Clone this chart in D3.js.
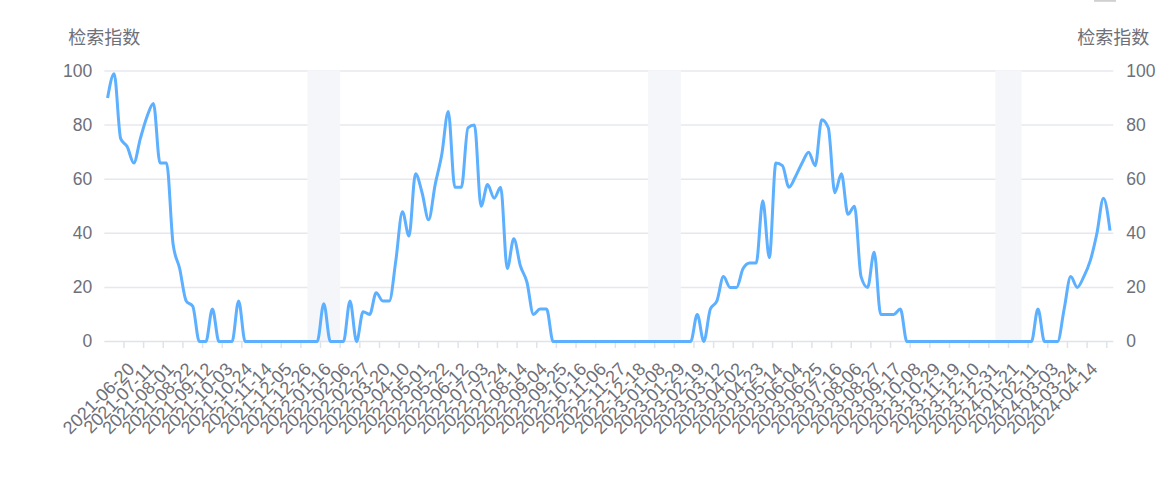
<!DOCTYPE html>
<html>
<head>
<meta charset="utf-8">
<script src="https://cdn.jsdelivr.net/npm/d3@7"></script>
<style>
  html, body { margin: 0; padding: 0; background: #ffffff; }
  svg { display: block; }
  text { font-family: "Liberation Sans", "Noto Sans CJK SC", sans-serif; }
</style>
</head>
<body>
<svg id="chart" width="1168" height="477"></svg>
<script>
// ---- data ----
const startDate = "2021-05-30";          // first weekly category
const weekCount = 154;                    // number of weekly categories
const searchIndex = [
  90, 99, 75, 72, 66, 75, 83, 88, 66, 66,
  36, 27, 15, 13, 0, 0, 12, 0, 0, 0,
  15, 0, 0, 0, 0, 0, 0, 0, 0, 0,
  0, 0, 0, 14, 0, 0, 0, 15, 0, 11,
  10, 18, 15, 15, 30, 48, 39, 62, 55, 45,
  58, 69, 85, 57, 57, 79, 80, 50, 58, 53,
  57, 27, 38, 28, 22, 10, 12, 12, 0, 0,
  0, 0, 0, 0, 0, 0, 0, 0, 0, 0,
  0, 0, 0, 0, 0, 0, 0, 0, 0, 0,
  10, 0, 12, 15, 24, 20, 20, 27, 29, 29,
  52, 31, 66, 65, 57, 61, 66, 70, 65, 82,
  79, 55, 62, 47, 50, 24, 20, 33, 10, 10,
  10, 12, 0, 0, 0, 0, 0, 0, 0, 0,
  0, 0, 0, 0, 0, 0, 0, 0, 0, 0,
  0, 0, 12, 0, 0, 0, 12, 24, 20, 24,
  30, 40, 53, 41
];
const yTicks = [0, 20, 40, 60, 80, 100];
const axisName = "检索指数";
// shaded periods [first week, last week]
const shadedPeriods = [
  ["2022-01-02", "2022-01-30"],
  ["2023-01-01", "2023-01-29"],
  ["2024-01-07", "2024-01-28"]
];
// x labels shown: every 3rd week from 2021-06-20 to 2024-04-14
const labelStep = 3;
const labelFirst = "2021-06-20";
const labelLast = "2024-04-14";

// ---- categories ----
const fmt = d3.utcFormat("%Y-%m-%d");
const start = d3.utcParse("%Y-%m-%d")(startDate);
const categories = d3.range(weekCount).map(i => fmt(d3.utcDay.offset(start, 7 * i)));

// ---- layout ----
const svg = d3.select("#chart");
const plotL = 104.3, plotR = 1113.3, plotT = 71, plotB = 341.5;
const x = d3.scaleBand().domain(categories).range([plotL, plotR]).padding(0);
const bw = x.bandwidth();
const cx = c => x(c) + bw / 2;
const y = d3.scaleLinear().domain([0, 100]).range([plotB, plotT]);

const labelColor = "#6E7079";
const gridColor = "#E6E8EF";
const fontSize = 17.5;

svg.append("rect").attr("width", 1168).attr("height", 477).attr("fill", "#fff");

// grid lines
svg.append("g").selectAll("line").data(yTicks.filter(v => v > 0)).join("line")
  .attr("x1", plotL).attr("x2", plotR)
  .attr("y1", d => y(d)).attr("y2", d => y(d))
  .attr("stroke", gridColor).attr("stroke-width", 1.5);

// shaded periods
svg.append("g").selectAll("rect").data(shadedPeriods).join("rect")
  .attr("x", d => x(d[0]))
  .attr("width", d => x(d[1]) + bw - x(d[0]))
  .attr("y", y(100) - 0.75)
  .attr("height", y(0) - y(100) + 0.75)
  .attr("fill", "#F5F6FA");

// x axis line + ticks
const iFirst = categories.indexOf(labelFirst), iLast = categories.indexOf(labelLast);
const tickCats = categories.filter((c, i) => i >= iFirst && (i - iFirst) % labelStep === 0);
const labelled = tickCats.filter(c => categories.indexOf(c) <= iLast);
svg.append("line").attr("x1", plotL).attr("x2", plotR)
  .attr("y1", y(0)).attr("y2", y(0))
  .attr("stroke", "#E0E3EA").attr("stroke-width", 1.5);
svg.append("g").selectAll("line").data(tickCats).join("line")
  .attr("x1", d => x(d)).attr("x2", d => x(d))
  .attr("y1", y(0)).attr("y2", y(0) + 6.5)
  .attr("stroke", "#E0E3EA").attr("stroke-width", 1.5);

// x labels
svg.append("g").selectAll("text").data(labelled).join("text")
  .attr("transform", d => `translate(${cx(d) + 4},${366}) rotate(-45)`)
  .attr("text-anchor", "end")
  .attr("dominant-baseline", "central")
  .attr("font-size", 18)
  .attr("fill", labelColor)
  .text(d => d);

// y axes (left and right) via d3 axes
const yl = svg.append("g").attr("transform", `translate(${plotL - 12},0)`)
  .call(d3.axisLeft(y).tickValues(yTicks).tickSize(0).tickPadding(0));
const yr = svg.append("g").attr("transform", `translate(${plotR + 13},0)`)
  .call(d3.axisRight(y).tickValues(yTicks).tickSize(0).tickPadding(0));
[yl, yr].forEach(g => {
  g.select(".domain").remove();
  g.selectAll("text")
    .attr("font-size", fontSize)
    .attr("font-family", "\"Liberation Sans\", \"Noto Sans CJK SC\", sans-serif")
    .attr("fill", labelColor)
    .attr("dy", null)
    .attr("y", -1)
    .attr("dominant-baseline", "central");
});

// axis names
svg.append("text").attr("x", plotL).attr("y", 38)
  .attr("text-anchor", "middle").attr("dominant-baseline", "central")
  .attr("font-size", 18).attr("fill", labelColor).text(axisName);
svg.append("text").attr("x", plotR).attr("y", 38)
  .attr("text-anchor", "middle").attr("dominant-baseline", "central")
  .attr("font-size", 18).attr("fill", labelColor).text(axisName);

// small cut-off element at top right
svg.append("rect").attr("x", 1094).attr("y", 0).attr("width", 22).attr("height", 1.8)
  .attr("fill", "#D0D0D0");

// line
const line = d3.line()
  .x((d, i) => cx(categories[i]))
  .y(d => y(d))
  .curve(d3.curveMonotoneX);
svg.append("path").datum(searchIndex)
  .attr("d", line)
  .attr("fill", "none")
  .attr("stroke", "#5CB0FF")
  .attr("stroke-width", 3)
  .attr("stroke-linejoin", "round");
</script>
</body>
</html>
